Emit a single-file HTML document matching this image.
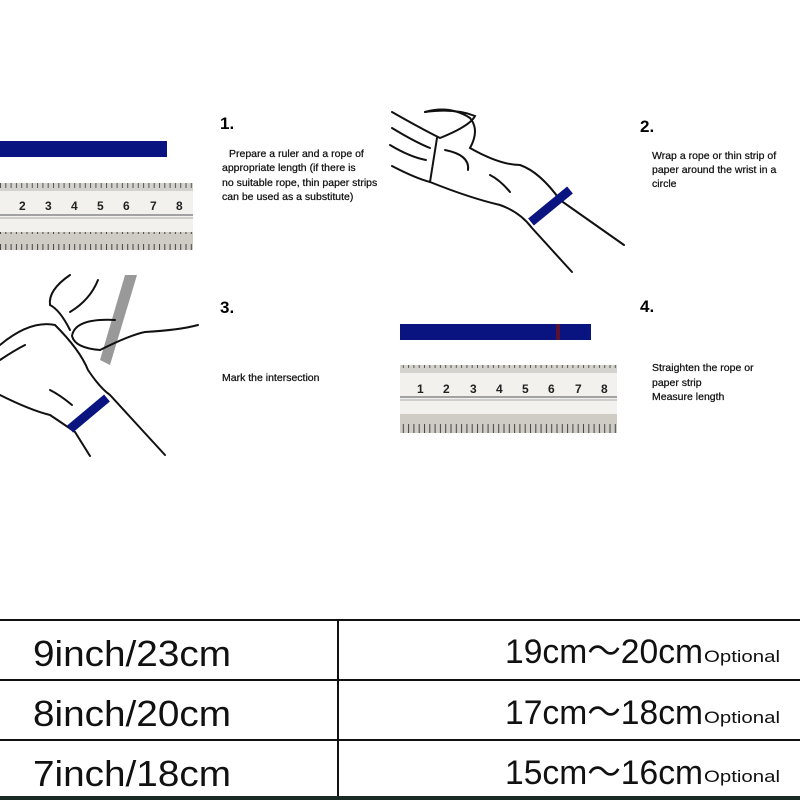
<!DOCTYPE html>
<html><head><meta charset="utf-8"><style>
body{margin:0;background:#fff;width:800px;height:800px;overflow:hidden;font-family:"Liberation Sans",sans-serif}
</style></head><body>
<svg width="800" height="800" viewBox="0 0 800 800" xmlns="http://www.w3.org/2000/svg">
<defs>
<pattern id="tk" width="5.3" height="20" patternUnits="userSpaceOnUse">
<rect width="5.3" height="20" fill="#d4d2cc"/><line x1="0.5" y1="0" x2="0.5" y2="8" stroke="#555" stroke-width="1"/>
</pattern>
<pattern id="tk2" width="5.3" height="20" patternUnits="userSpaceOnUse">
<rect width="5.3" height="20" fill="#cfccc5"/><line x1="0.5" y1="4" x2="0.5" y2="14" stroke="#444" stroke-width="1"/>
</pattern>
</defs>
<rect x="0" y="141" width="167" height="16" fill="#0a1480"/>
<g>
<rect x="0" y="183" width="193" height="67" fill="#f2f1ee"/>
<rect x="0" y="183" width="193" height="8" fill="url(#tk)"/>
<line x1="0" y1="215" x2="193" y2="215" stroke="#888" stroke-width="1.5"/>
<line x1="0" y1="218" x2="193" y2="218" stroke="#aaa"/>
<rect x="0" y="232" width="193" height="18" fill="url(#tk2)"/>
<g font-size="12" font-weight="bold" fill="#222">
<text x="19" y="210">2</text><text x="45" y="210">3</text><text x="71" y="210">4</text><text x="97" y="210">5</text><text x="123" y="210">6</text><text x="150" y="210">7</text><text x="176" y="210">8</text></g>
</g>
<text x="220" y="129" font-size="17" font-weight="bold">1.</text>
<g font-size="10.5" fill="#111" stroke="#111" stroke-width="0.25">
<text x="229" y="157">Prepare a ruler and a rope of</text>
<text x="222" y="171">appropriate length (if there is</text>
<text x="222" y="186">no suitable rope, thin paper strips</text>
<text x="222" y="200">can be used as a substitute)</text>
</g>
<g fill="none" stroke="#111" stroke-width="2" stroke-linecap="round">
<path d="M392 112 Q420 128 440 138 Q470 126 475 116 Q455 108 425 112"/>
<path d="M425 112 Q450 105 470 118 Q480 130 470 148 Q500 165 520 165 Q540 172 560 200 L624 245"/>
<path d="M392 128 Q415 142 430 148"/>
<path d="M390 145 Q410 157 426 160"/>
<path d="M392 166 Q415 178 430 182 Q470 198 500 205 Q520 212 532 228 L572 272"/>
<path d="M437 138 L430 182"/>
<path d="M445 150 Q470 155 468 170"/>
<path d="M490 175 Q500 180 510 192"/>
</g>
<path d="M531 222 L570 190" stroke="#0a1480" stroke-width="9"/>
<text x="640" y="132" font-size="17" font-weight="bold">2.</text>
<g font-size="10.5" fill="#111" stroke="#111" stroke-width="0.25">
<text x="652" y="159">Wrap a rope or thin strip of</text>
<text x="652" y="173">paper around the wrist in a</text>
<text x="652" y="187">circle</text>
</g>
<polygon points="125,275 137,275 110,365 100,360" fill="#999"/>
<g fill="none" stroke="#111" stroke-width="2" stroke-linecap="round">
<path d="M70 275 Q48 290 50 305 Q60 310 70 330"/>
<path d="M98 280 Q90 300 70 312"/>
<path d="M115 320 Q75 318 72 336 Q75 348 100 350 Q130 335 145 332 Q180 330 198 325"/>
<path d="M0 345 Q30 320 55 325 Q80 350 88 370 Q100 388 110 395 L165 455"/>
<path d="M0 395 Q30 410 50 415 Q65 425 75 432 L90 456"/>
<path d="M0 360 Q15 350 25 345"/>
<path d="M50 390 Q60 395 72 405"/>
</g>
<path d="M70 429 L107 398" stroke="#0a1480" stroke-width="9"/>
<text x="220" y="313" font-size="17" font-weight="bold">3.</text>
<text x="222" y="381" font-size="10.5" fill="#111" stroke="#111" stroke-width="0.25">Mark the intersection</text>
<rect x="400" y="324" width="191" height="16" fill="#0a1480"/>
<rect x="556" y="324" width="4" height="16" fill="#5a1030"/>
<g>
<rect x="400" y="365" width="217" height="68" fill="#f2f1ee"/>
<rect x="400" y="365" width="217" height="8" fill="url(#tk)"/>
<line x1="400" y1="397" x2="617" y2="397" stroke="#888" stroke-width="1.5"/>
<line x1="400" y1="400" x2="617" y2="400" stroke="#aaa"/>
<rect x="400" y="414" width="217" height="19" fill="url(#tk2)"/>
<g font-size="12" font-weight="bold" fill="#222">
<text x="417" y="393">1</text><text x="443" y="393">2</text><text x="470" y="393">3</text><text x="496" y="393">4</text><text x="522" y="393">5</text><text x="548" y="393">6</text><text x="575" y="393">7</text><text x="601" y="393">8</text></g>
</g>
<text x="640" y="312" font-size="17" font-weight="bold">4.</text>
<g font-size="10.5" fill="#111" stroke="#111" stroke-width="0.25">
<text x="652" y="371">Straighten the rope or</text>
<text x="652" y="386">paper strip</text>
<text x="652" y="400">Measure length</text>
</g>
<g stroke="#111" stroke-width="2">
<line x1="0" y1="620" x2="800" y2="620"/>
<line x1="0" y1="680" x2="800" y2="680"/>
<line x1="0" y1="740" x2="800" y2="740"/>
<line x1="338" y1="620" x2="338" y2="796"/>
</g>
<rect x="0" y="796" width="800" height="4" fill="#1a2a24"/>
<g font-family="'Liberation Sans Narrow','Liberation Sans',sans-serif" font-size="36" fill="#111">
<text x="33" y="666" textLength="198" lengthAdjust="spacingAndGlyphs">9inch/23cm</text>
<text x="33" y="726" textLength="198" lengthAdjust="spacingAndGlyphs">8inch/20cm</text>
<text x="33" y="786" textLength="198" lengthAdjust="spacingAndGlyphs">7inch/18cm</text>
</g>
<g font-family="'Liberation Sans','Noto Sans CJK SC',sans-serif" font-size="34" fill="#111">
<text x="505" y="663" textLength="198" lengthAdjust="spacingAndGlyphs">19cm～20cm</text>
<text x="505" y="724" textLength="198" lengthAdjust="spacingAndGlyphs">17cm～18cm</text>
<text x="505" y="784" textLength="198" lengthAdjust="spacingAndGlyphs">15cm～16cm</text>
</g>
<g font-size="17" fill="#111">
<text x="704" y="662" textLength="76" lengthAdjust="spacingAndGlyphs">Optional</text>
<text x="704" y="723" textLength="76" lengthAdjust="spacingAndGlyphs">Optional</text>
<text x="704" y="782" textLength="76" lengthAdjust="spacingAndGlyphs">Optional</text>
</g>
</svg>
</body></html>
